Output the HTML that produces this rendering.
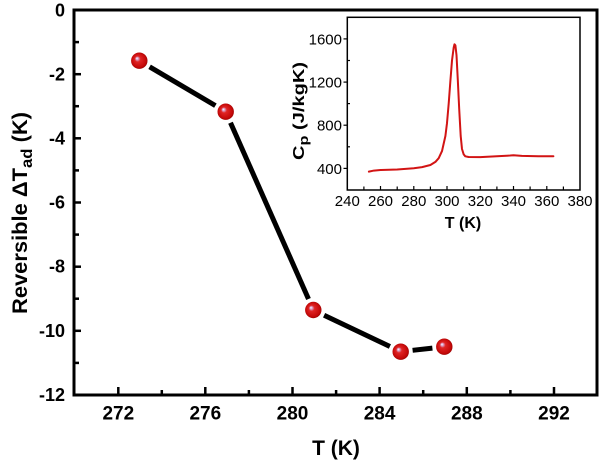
<!DOCTYPE html>
<html>
<head>
<meta charset="utf-8">
<style>
  html, body { margin:0; padding:0; background:#fff; }
  svg { display:block; }
  text { font-family: "Liberation Sans", Arial, sans-serif; }
</style>
</head>
<body>
<svg width="600" height="462" viewBox="0 0 600 462" xmlns="http://www.w3.org/2000/svg">
  <defs>
    <radialGradient id="ball" cx="0.5" cy="0.5" r="0.55" fx="0.35" fy="0.35">
      <stop offset="0" stop-color="#ffffff"/>
      <stop offset="0.13" stop-color="#d9a6cf"/>
      <stop offset="0.32" stop-color="#e02424"/>
      <stop offset="0.8" stop-color="#c40808"/>
      <stop offset="1" stop-color="#8a0000"/>
    </radialGradient>
  </defs>
  <rect x="0" y="0" width="600" height="462" fill="#fff"/>

  <!-- Main frame -->
  <rect x="74" y="10" width="523" height="385" fill="none" stroke="#000" stroke-width="3"/>

  <!-- Y ticks (inward) -->
  <g stroke="#000" stroke-width="2.5">
    <line x1="74" y1="42.1" x2="79" y2="42.1"/>
    <line x1="74" y1="74.2" x2="81" y2="74.2"/>
    <line x1="74" y1="106.2" x2="79" y2="106.2"/>
    <line x1="74" y1="138.3" x2="81" y2="138.3"/>
    <line x1="74" y1="170.4" x2="79" y2="170.4"/>
    <line x1="74" y1="202.5" x2="81" y2="202.5"/>
    <line x1="74" y1="234.6" x2="79" y2="234.6"/>
    <line x1="74" y1="266.7" x2="81" y2="266.7"/>
    <line x1="74" y1="298.7" x2="79" y2="298.7"/>
    <line x1="74" y1="330.8" x2="81" y2="330.8"/>
    <line x1="74" y1="362.9" x2="79" y2="362.9"/>
  </g>
  <!-- X ticks (inward) -->
  <g stroke="#000" stroke-width="2.5">
    <line x1="118.3" y1="395" x2="118.3" y2="387"/>
    <line x1="161.8" y1="395" x2="161.8" y2="390"/>
    <line x1="205.3" y1="395" x2="205.3" y2="387"/>
    <line x1="248.9" y1="395" x2="248.9" y2="390"/>
    <line x1="292.5" y1="395" x2="292.5" y2="387"/>
    <line x1="336.1" y1="395" x2="336.1" y2="390"/>
    <line x1="379.6" y1="395" x2="379.6" y2="387"/>
    <line x1="423.2" y1="395" x2="423.2" y2="390"/>
    <line x1="466.8" y1="395" x2="466.8" y2="387"/>
    <line x1="510.4" y1="395" x2="510.4" y2="390"/>
    <line x1="554.0" y1="395" x2="554.0" y2="387"/>
  </g>

  <!-- Y tick labels -->
  <g font-weight="bold" font-size="18" text-anchor="end" fill="#000">
    <text x="65" y="16.5">0</text>
    <text x="65" y="80.5">-2</text>
    <text x="65" y="144.5">-4</text>
    <text x="65" y="208.5">-6</text>
    <text x="65" y="272.5">-8</text>
    <text x="65" y="337">-10</text>
    <text x="65" y="401">-12</text>
  </g>
  <!-- X tick labels -->
  <g font-weight="bold" font-size="19" text-anchor="middle" fill="#000">
    <text x="118.3" y="419.5">272</text>
    <text x="205.3" y="419.5">276</text>
    <text x="292.5" y="419.5">280</text>
    <text x="379.6" y="419.5">284</text>
    <text x="466.8" y="419.5">288</text>
    <text x="554.0" y="419.5">292</text>
  </g>

  <!-- Axis titles -->
  <text x="336" y="455" font-weight="bold" font-size="21" text-anchor="middle">T (K)</text>
  <text transform="translate(27,213) rotate(-90)" font-weight="bold" font-size="21" text-anchor="middle" textLength="202" lengthAdjust="spacingAndGlyphs">Reversible ΔT<tspan font-size="16" dy="5">ad</tspan><tspan dy="-5"> (K)</tspan></text>

  <!-- Data line segments -->
  <g stroke="#000" stroke-width="5" stroke-linecap="butt">
    <line x1="149.6" y1="66.8" x2="215.4" y2="105.6"/>
    <line x1="230.5" y1="122.7" x2="308.5" y2="299.0"/>
    <line x1="324.1" y1="315.2" x2="389.9" y2="346.5"/>
    <line x1="412.6" y1="350.3" x2="432.4" y2="348.1"/>
  </g>
  <!-- Markers -->
  <g fill="url(#ball)">
    <circle cx="139.3" cy="60.7" r="8.2"/>
    <circle cx="225.7" cy="111.7" r="8.2"/>
    <circle cx="313.3" cy="310" r="8.2"/>
    <circle cx="400.7" cy="351.7" r="8.2"/>
    <circle cx="444.3" cy="346.7" r="8.2"/>
  </g>

  <!-- Inset -->
  <rect x="347.3" y="17.3" width="232.7" height="172.7" fill="#fff" stroke="#000" stroke-width="1.5"/>
  <!-- Inset y ticks -->
  <g stroke="#000" stroke-width="1.2">
    <line x1="343.5" y1="168.4" x2="347.3" y2="168.4"/>
    <line x1="347.3" y1="146.8" x2="350" y2="146.8"/>
    <line x1="343.5" y1="125.2" x2="347.3" y2="125.2"/>
    <line x1="347.3" y1="103.6" x2="350" y2="103.6"/>
    <line x1="343.5" y1="82.1" x2="347.3" y2="82.1"/>
    <line x1="347.3" y1="60.5" x2="350" y2="60.5"/>
    <line x1="343.5" y1="38.9" x2="347.3" y2="38.9"/>
  </g>
  <!-- Inset x ticks -->
  <g stroke="#000" stroke-width="1.2">
    <line x1="363.9" y1="190" x2="363.9" y2="186.5"/>
    <line x1="380.5" y1="190" x2="380.5" y2="186"/>
    <line x1="397.2" y1="190" x2="397.2" y2="186.5"/>
    <line x1="413.8" y1="190" x2="413.8" y2="186"/>
    <line x1="430.4" y1="190" x2="430.4" y2="186.5"/>
    <line x1="447.0" y1="190" x2="447.0" y2="186"/>
    <line x1="463.7" y1="190" x2="463.7" y2="186.5"/>
    <line x1="480.3" y1="190" x2="480.3" y2="186"/>
    <line x1="496.9" y1="190" x2="496.9" y2="186.5"/>
    <line x1="513.5" y1="190" x2="513.5" y2="186"/>
    <line x1="530.1" y1="190" x2="530.1" y2="186.5"/>
    <line x1="546.8" y1="190" x2="546.8" y2="186"/>
    <line x1="563.4" y1="190" x2="563.4" y2="186.5"/>
  </g>
  <!-- Inset tick labels -->
  <g font-size="15" text-anchor="end" fill="#000">
    <text x="342" y="174">400</text>
    <text x="342" y="130.6">800</text>
    <text x="342" y="87.5">1200</text>
    <text x="342" y="44.3">1600</text>
  </g>
  <g font-size="15" text-anchor="middle" fill="#000">
    <text x="347.3" y="206">240</text>
    <text x="380.5" y="206">260</text>
    <text x="413.8" y="206">280</text>
    <text x="447.0" y="206">300</text>
    <text x="480.3" y="206">320</text>
    <text x="513.5" y="206">340</text>
    <text x="546.8" y="206">360</text>
    <text x="580.0" y="206">380</text>
  </g>
  <text x="463" y="228" font-weight="bold" font-size="16" text-anchor="middle">T (K)</text>
  <text transform="translate(304,111) rotate(-90)" font-weight="bold" font-size="16" text-anchor="middle" textLength="98" lengthAdjust="spacingAndGlyphs">C<tspan font-size="13" dy="4">p</tspan><tspan dy="-4"> (J/kgK)</tspan></text>

  <!-- Inset curve -->
  <polyline fill="none" stroke="#d21414" stroke-width="2" stroke-linejoin="round" stroke-linecap="round"
    points="368.9,171.65 373.9,170.57 380.5,170.03 397.2,169.49 413.8,168.2 422.1,167.1 430.4,165.0 435.4,161.9 438.7,158.2 442.0,151.1 445.4,136.0 447.0,123.1 448.7,103.6 450.3,82.1 452.0,60.5 453.7,47.5 454.5,44.3 455.4,45.4 456.5,55.1 457.8,79.9 459.2,109.0 460.7,136.0 462.0,149.0 463.7,154.4 465.3,156.3 468.6,157.0 480.3,157.1 496.9,156.3 510.2,155.5 513.5,155.2 521.8,155.9 538.4,156.3 553.4,156.3"/>
</svg>
</body>
</html>
